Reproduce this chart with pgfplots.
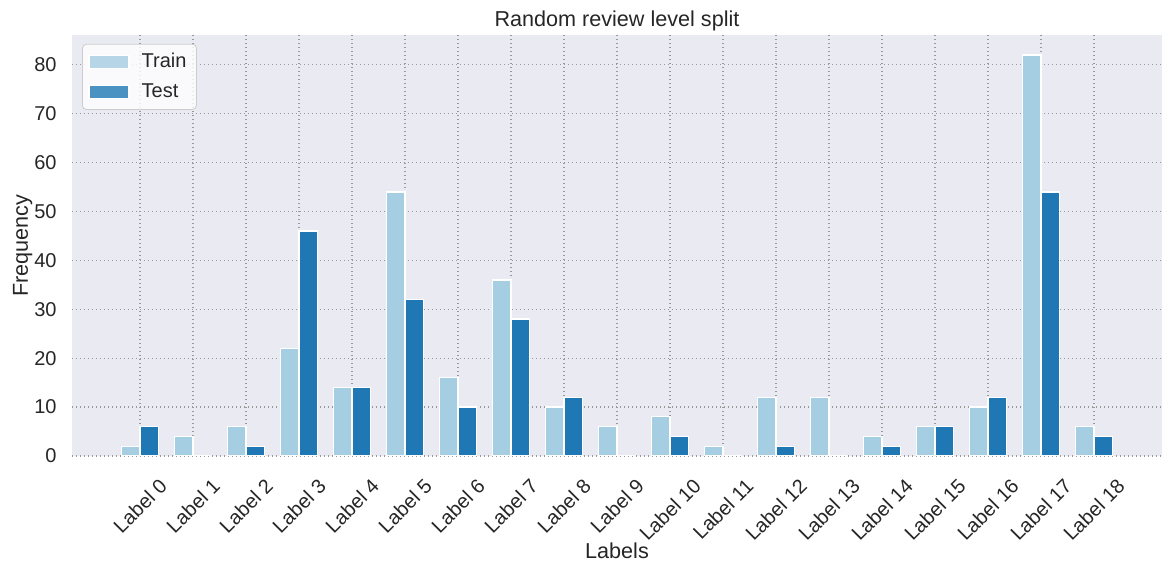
\documentclass[border=0pt]{standalone}
\usepackage{pgfplots}
\pgfplotsset{compat=1.18}
\usepackage{fontspec}
\setmainfont{Liberation Sans}
\definecolor{trainc}{HTML}{A6CEE3}
\definecolor{testc}{HTML}{1F78B4}
\definecolor{bgc}{HTML}{EAEAF2}
\definecolor{txtc}{HTML}{262626}
\definecolor{gridc}{HTML}{999999}
\definecolor{legc}{HTML}{CCCCCC}
\begin{document}
\begin{tikzpicture}
\begin{axis}[
  name=ax,
  scale only axis,
  width=545pt, height=210.5pt,
  xmin=-1.285, xmax=19.285,
  ymin=0, ymax=86.1,
  axis background/.style={fill=bgc},
  axis line style={draw=none},
  major tick length=0pt,
  xtick={0,...,18},
  ytick={0,10,...,80},
  xticklabels={\rotatebox{45}{Label 0},\rotatebox{45}{Label 1},\rotatebox{45}{Label 2},\rotatebox{45}{Label 3},\rotatebox{45}{Label 4},\rotatebox{45}{Label 5},\rotatebox{45}{Label 6},\rotatebox{45}{Label 7},\rotatebox{45}{Label 8},\rotatebox{45}{Label 9},\rotatebox{45}{Label 10},\rotatebox{45}{Label 11},\rotatebox{45}{Label 12},\rotatebox{45}{Label 13},\rotatebox{45}{Label 14},\rotatebox{45}{Label 15},\rotatebox{45}{Label 16},\rotatebox{45}{Label 17},\rotatebox{45}{Label 18}},
  xticklabel style={anchor=north, inner sep=0pt, yshift=-10.5pt, font=\fontsize{10}{12}\selectfont, text=txtc},
  yticklabel style={anchor=east, inner sep=0pt, xshift=-7.5pt, font=\fontsize{10}{12}\selectfont, text=txtc},
  /pgf/number format/assume math mode=true,
  grid=major,
  major grid style={gridc, line width=0.6pt, dash pattern=on 0.7pt off 1.3pt},
  every axis title shift=0pt,
  title={Random review level split},
  title style={at={(axis description cs:0.5,1.019)}, anchor=base, inner sep=0pt, font=\fontsize{10.8}{13}\selectfont, text=txtc},
  xlabel={Labels},
  xlabel style={at={(axis description cs:0.5,-0.2447)}, anchor=base, inner sep=0pt, font=\fontsize{10.8}{13}\selectfont, text=txtc},
  ylabel={Frequency},
  ylabel style={at={(axis description cs:-0.0404,0.5)}, anchor=base, inner sep=0pt, font=\fontsize{10.8}{13}\selectfont, text=txtc},
  legend style={at={(axis description cs:0.0092,0.979)}, anchor=north west,
    draw=legc, rounded corners=2pt, fill=white, fill opacity=0.8, text opacity=1,
    font=\fontsize{10}{12}\selectfont, text=txtc,
    inner xsep=3pt, inner ysep=2.5pt, row sep=2.5pt, column sep=4pt,
    nodes={inner sep=2pt}},
  legend cell align=left,
  legend image code/.code={\draw[#1, sharp corners, draw=white, line width=0.6pt] (0pt,-3.25pt) rectangle (20pt,3.25pt);},
]
\addplot[ybar, bar width=0.35, bar shift=-0.175, fill=trainc, draw=white, line width=0.6pt]
coordinates {(0,2) (1,4) (2,6) (3,22) (4,14) (5,54) (6,16) (7,36) (8,10) (9,6) (10,8) (11,2) (12,12) (13,12) (14,4) (15,6) (16,10) (17,82) (18,6)};
\addlegendentry{Train}
\addplot[ybar, bar width=0.35, bar shift=0.175, fill=testc, draw=white, line width=0.6pt]
coordinates {(0,6) (1,0) (2,2) (3,46) (4,14) (5,32) (6,10) (7,28) (8,12) (9,0) (10,4) (11,0) (12,2) (13,0) (14,2) (15,6) (16,12) (17,54) (18,4)};
\addlegendentry{Test}
\end{axis}
\pgfresetboundingbox
\path[use as bounding box] ([xshift=-36pt,yshift=-58.5pt]ax.south west) rectangle ([xshift=5.5pt,yshift=17.5pt]ax.north east);
\end{tikzpicture}
\end{document}
